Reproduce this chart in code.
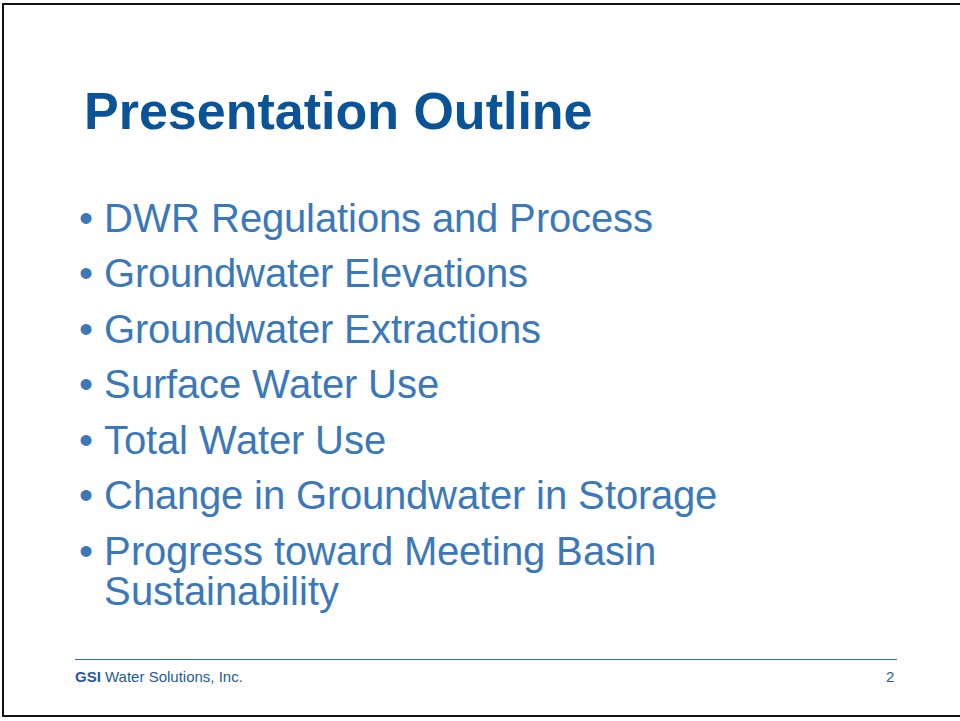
<!DOCTYPE html>
<html lang="en">
<head>
  <meta charset="UTF-8">
  <title>Presentation Outline</title>
  <script src="https://cdn.jsdelivr.net/npm/chart.js"></script>
  <style>
    /* installed font with tighter ascent/descent so wrapped lines sit close */
    @font-face {
      font-family: "OutlineSans";
      src: local("Liberation Sans"), local("LiberationSans-Regular");
      ascent-override: 80%;
      descent-override: 15%;
      line-gap-override: 0%;
    }
    html, body {
      margin: 0;
      padding: 0;
      background: #fff;
    }
    .slide {
      position: absolute;
      left: 2px;
      top: 3px;
      width: 970px;
      height: 714px;
      border: 2px solid #111;
      box-sizing: border-box;
    }
    h1 {
      position: absolute;
      left: 80px;
      top: 74px;
      margin: 0;
      font-family: "Liberation Sans Narrow", "Liberation Sans", sans-serif;
      font-weight: bold;
      font-size: 52px;
      line-height: 64px;
      color: #0a5396;
      white-space: nowrap;
    }
    ul {
      position: absolute;
      left: 66px;
      top: 0;
      margin: 0;
      padding: 0;
      list-style: none;
      font-family: "OutlineSans", "Liberation Sans", sans-serif;
      font-size: 40.3px;
      color: #3b78b9;
    }
    li {
      position: absolute;
      left: 0;
      white-space: nowrap;
      line-height: 40px;
    }
    li .dot {
      position: absolute;
      left: 9px;
      top: 0;
    }
    li .txt {
      display: block;
      margin-left: 34px;
    }
    .rule {
      position: absolute;
      left: 71px;
      top: 654px;
      width: 822px;
      height: 0;
      border-top: 1.5px solid #2d6aa8;
    }
    .footer {
      position: absolute;
      left: 71px;
      top: 663px;
      font-family: "Liberation Sans Narrow", "Liberation Sans", sans-serif;
      font-size: 15px;
      color: #1f5b9c;
    }
    .page {
      position: absolute;
      left: 882px;
      top: 663px;
      font-family: "Liberation Sans Narrow", "Liberation Sans", sans-serif;
      font-size: 15px;
      color: #1f5b9c;
    }
  </style>
</head>
<body>
  <div class="slide" id="slide">
    <h1 id="title"></h1>
    <ul id="outline"></ul>
    <div class="rule"></div>
    <div class="footer"><b>GSI</b> Water Solutions, Inc.</div>
    <div class="page" id="page"></div>
  </div>

  <script>
    const slideTitle = "Presentation Outline";
    // one entry per bullet, wrapped lines in a sub-array
    const outlineItems = [
      ["DWR Regulations and Process"],
      ["Groundwater Elevations"],
      ["Groundwater Extractions"],
      ["Surface Water Use"],
      ["Total Water Use"],
      ["Change in Groundwater in Storage"],
      ["Progress toward Meeting Basin", "Sustainability"]
    ];
    const pageNumber = "2";

    document.getElementById('title').textContent = slideTitle;
    document.getElementById('page').textContent = pageNumber;

    const ul = document.getElementById('outline');
    let y = 193.5;
    outlineItems.forEach(lines => {
      const li = document.createElement('li');
      li.style.top = y + 'px';
      const dot = document.createElement('span');
      dot.className = 'dot';
      dot.textContent = '•';
      li.appendChild(dot);
      const txt = document.createElement('span');
      txt.className = 'txt';
      lines.forEach((line, i) => {
        if (i > 0) txt.appendChild(document.createElement('br'));
        txt.appendChild(document.createTextNode(line));
      });
      li.appendChild(txt);
      ul.appendChild(li);
      y += 55.5;
    });
  </script>
</body>
</html>
